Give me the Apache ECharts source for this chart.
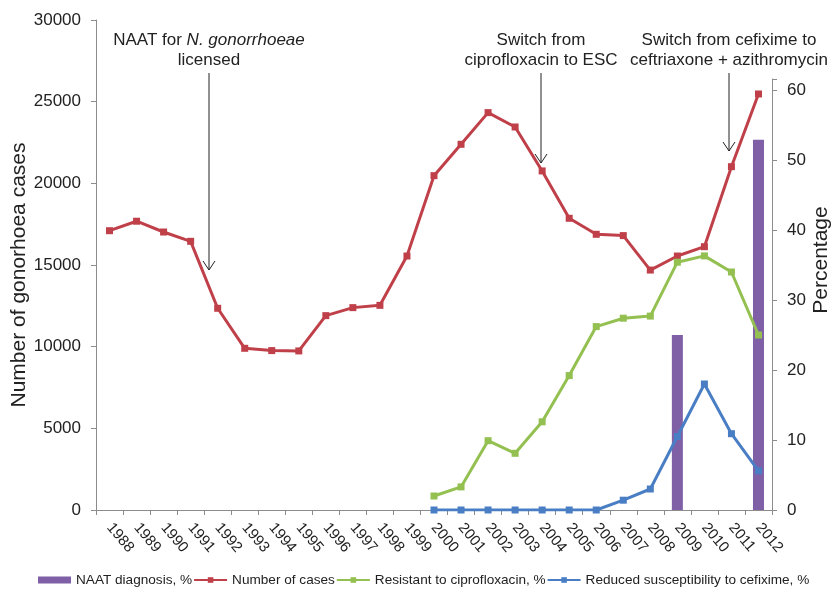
<!DOCTYPE html>
<html><head><meta charset="utf-8">
<script src="https://cdn.jsdelivr.net/npm/echarts@6/dist/echarts.min.js"></script>
<style>html,body{margin:0;padding:0;background:#fff}#c{width:831px;height:590px}</style>
</head><body><div id="c"></div>
<script>
const years = ['1988','1989','1990','1991','1992','1993','1994','1995','1996','1997','1998','1999','2000','2001','2002','2003','2004','2005','2006','2007','2008','2009','2010','2011','2012'];
const cases = [17100,17680,17020,16450,12350,9900,9760,9740,11900,12390,12530,15550,20470,22390,24330,23450,20760,17860,16880,16800,14690,15550,16120,21020,25470];
const ciproResistant = [null,null,null,null,null,null,null,null,null,null,null,null,2.0,3.3,9.9,8.1,12.6,19.2,26.2,27.4,27.7,35.4,36.3,34.0,25.0];
const cefiximeReduced = [null,null,null,null,null,null,null,null,null,null,null,null,0,0,0,0,0,0,0,1.4,3.0,10.5,18.0,10.9,5.6];
const naatDiagnosis = [null,null,null,null,null,null,null,null,null,null,null,null,null,null,null,null,null,null,null,null,null,25.0,null,null,52.9];
const seriesNames = ['NAAT diagnosis, %','Number of cases','Resistant to ciprofloxacin, %','Reduced susceptibility to cefixime, %'];
const axisNames = ['Number of gonorhoea cases','Percentage'];

const FONT = 'Liberation Sans, Arial, sans-serif';
const axisGray = '#8c8c8c';
const colors = { bar:'#7F5FA6', red:'#C0404A', green:'#93C050', blue:'#4A7EC4' };

const chart = echarts.init(document.getElementById('c'), null, {renderer:'canvas'});

function arrow(x, y1, y2) {
  return [
    { type:'line', shape:{x1:x,y1:y1,x2:x,y2:y2}, style:{stroke:'#222',lineWidth:1} },
    { type:'polyline', shape:{points:[[x-6,y2-9],[x,y2],[x+6,y2-9]]}, style:{stroke:'#222',lineWidth:1,fill:null} }
  ];
}

const option = {
  animation:false,
  textStyle:{fontFamily:FONT},
  grid:[
    {left:96,right:59,top:20,bottom:80,containLabel:false,outerBoundsMode:'none'},
    {left:96,right:59,top:79,bottom:80,containLabel:false,outerBoundsMode:'none'}
  ],
  legend:{
    data:[
      {name:seriesNames[0],icon:'rect'},
      {name:seriesNames[1]},
      {name:seriesNames[2]},
      {name:seriesNames[3]}
    ],
    bottom:-2,
    left:33,
    itemWidth:33,
    itemHeight:7,
    itemGap:1,
    textStyle:{fontFamily:FONT,fontSize:13.6,color:'#222'}
  },
  xAxis:[
    {type:'category',gridIndex:0,data:years,boundaryGap:true,
     axisLine:{lineStyle:{color:axisGray}},
     axisTick:{show:true,length:5,alignWithLabel:false,lineStyle:{color:axisGray}},
     axisLabel:{interval:0,rotate:-50,fontSize:15,color:'#222',margin:15,fontFamily:FONT},
     splitLine:{show:false}},
    {type:'category',gridIndex:1,data:years,boundaryGap:true,show:false}
  ],
  yAxis:[
    {type:'value',gridIndex:0,min:0,max:30000,interval:5000,position:'left',
     axisLine:{show:true,lineStyle:{color:axisGray}},
     axisTick:{show:true,length:5,lineStyle:{color:axisGray}},
     axisLabel:{fontSize:17,color:'#222',margin:15,fontFamily:FONT,
       formatter:function(v){ return String(v); }},
     splitLine:{show:false}},
    {type:'value',gridIndex:1,min:0,max:61.57,interval:10,position:'right',
     axisLine:{show:true,lineStyle:{color:axisGray}},
     axisTick:{show:true,length:5,lineStyle:{color:axisGray}},
     axisLabel:{fontSize:17,color:'#222',margin:15,fontFamily:FONT,
       formatter:function(v){ return (Math.abs(v % 10) < 1e-6) ? String(v) : ''; }},
     splitLine:{show:false}}
  ],
  series:[
    {name:seriesNames[0],type:'bar',xAxisIndex:1,yAxisIndex:1,data:naatDiagnosis,barWidth:11,
     itemStyle:{color:colors.bar}},
    {name:seriesNames[1],type:'line',xAxisIndex:0,yAxisIndex:0,data:cases,
     symbol:'rect',symbolSize:7,showAllSymbol:true,
     lineStyle:{width:3,color:colors.red},itemStyle:{color:colors.red}},
    {name:seriesNames[2],type:'line',xAxisIndex:1,yAxisIndex:1,data:ciproResistant,
     symbol:'rect',symbolSize:7,showAllSymbol:true,
     lineStyle:{width:3,color:colors.green},itemStyle:{color:colors.green}},
    {name:seriesNames[3],type:'line',xAxisIndex:1,yAxisIndex:1,data:cefiximeReduced,
     symbol:'rect',symbolSize:7,showAllSymbol:true,
     lineStyle:{width:3,color:colors.blue},itemStyle:{color:colors.blue}}
  ],
  graphic:[
    {type:'text',x:19.5,y:275,rotation:Math.PI/2,style:{
      text:axisNames[0],align:'center',verticalAlign:'middle',
      fontSize:21,fontFamily:FONT,fill:'#222'}},
    {type:'text',x:821,y:260,rotation:Math.PI/2,style:{
      text:axisNames[1],align:'center',verticalAlign:'middle',
      fontSize:21,fontFamily:FONT,fill:'#222'}},
    {type:'text',x:209,y:30,style:{
      text:'{a|NAAT for }{i|N. gonorrhoeae}\n{a|licensed}',
      align:'center',verticalAlign:'top',
      rich:{a:{fontSize:17,fontFamily:FONT,fill:'#222',lineHeight:20},
            i:{fontSize:17,fontFamily:FONT,fontStyle:'italic',fill:'#222',lineHeight:20}}}},
    {type:'text',x:541,y:30,style:{
      text:'Switch from\nciprofloxacin to ESC',align:'center',verticalAlign:'top',
      fontSize:17,fontFamily:FONT,fill:'#222',lineHeight:20}},
    {type:'text',x:729,y:30,style:{
      text:'Switch from cefixime to\nceftriaxone + azithromycin',align:'center',verticalAlign:'top',
      fontSize:17,fontFamily:FONT,fill:'#222',lineHeight:20}}
  ].concat(arrow(209,73,270), arrow(541,73,163), arrow(729,73,151))
};
chart.setOption(option);
</script>
</body></html>
